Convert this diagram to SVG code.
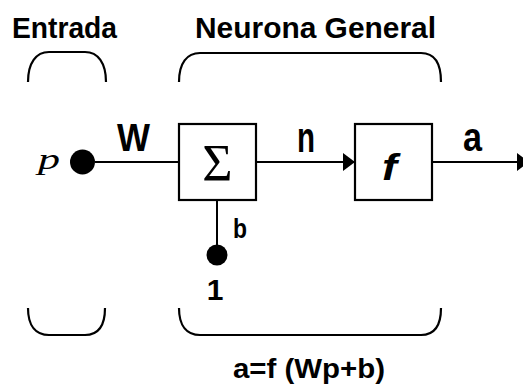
<svg xmlns="http://www.w3.org/2000/svg" width="523" height="385" viewBox="0 0 523 385">
  <style>
    .lbl { font-family: "Liberation Sans", Arial, sans-serif; font-weight: bold; fill: #000; }
    .wire { stroke: #000; stroke-width: 2; fill: none; }
    .brace { stroke: #000; stroke-width: 2.2; fill: none; }
    .box { stroke: #000; stroke-width: 2.2; fill: #fff; }
    .dot { fill: #000; }
  </style>
  <defs>
    <marker id="arrow" markerUnits="userSpaceOnUse" markerWidth="14" markerHeight="22" refX="13" refY="11" orient="auto">
      <path d="M1,2 L13,11 L1,20 Z" fill="#000"/>
    </marker>
  </defs>
  <rect width="523" height="385" fill="#fff"/>

  <!-- headings -->
  <text class="lbl" x="12" y="38" font-size="30" textLength="105" lengthAdjust="spacingAndGlyphs">Entrada</text>
  <text class="lbl" x="195" y="38" font-size="30" textLength="241" lengthAdjust="spacingAndGlyphs">Neurona General</text>

  <!-- input bracket -->
  <g id="input-bracket">
    <path class="brace" d="M28,82 C28,63 36,52 49,52 L85,52 C98,52 106,63 106,82"/>
    <path class="brace" d="M28,308 C28,326 36,335 49,335 L85,335 C98,335 105,326 105,308"/>
  </g>

  <!-- neuron bracket -->
  <g id="neuron-bracket">
    <path class="brace" d="M179,82 C179,63 187,53 200,53 L421,53 C434,53 441,63 441,82"/>
    <path class="brace" d="M179,308 C179,326 187,335 200,335 L421,335 C434,335 441,326 441,308"/>
  </g>

  <!-- connectors -->
  <g id="connectors">
    <line class="wire" x1="95" y1="162" x2="179" y2="162"/>
    <line class="wire" x1="256" y1="162" x2="355" y2="162" marker-end="url(#arrow)"/>
    <line class="wire" x1="432" y1="162" x2="529" y2="162" marker-end="url(#arrow)"/>
    <line class="wire" x1="217" y1="200" x2="217" y2="250" stroke-width="2.6"/>
  </g>

  <!-- input p -->
  <g id="input">
    <circle class="dot" cx="82.5" cy="162" r="12.5"/>
    <text x="38" y="169" font-family="Liberation Serif, 'Times New Roman', serif" font-style="italic" font-size="30" textLength="22" lengthAdjust="spacingAndGlyphs">p</text>
    <text class="lbl" x="117" y="151" font-size="38" textLength="33" lengthAdjust="spacingAndGlyphs">W</text>
  </g>

  <!-- summing junction -->
  <g id="sum">
    <rect class="box" x="179" y="124" width="77" height="76"/>
    <text x="217.5" y="181" text-anchor="middle" font-family="Liberation Serif, 'Times New Roman', serif" font-size="52">Σ</text>
  </g>

  <!-- bias -->
  <g id="bias">
    <circle class="dot" cx="217" cy="255" r="10.5"/>
    <text class="lbl" x="233" y="238" font-size="28" textLength="14" lengthAdjust="spacingAndGlyphs">b</text>
    <text class="lbl" x="215" y="300" font-size="30" text-anchor="middle">1</text>
  </g>

  <!-- net input label -->
  <text class="lbl" x="297" y="152" font-size="42" textLength="18" lengthAdjust="spacingAndGlyphs">n</text>

  <!-- transfer function -->
  <g id="transfer">
    <rect class="box" x="355" y="124" width="77" height="76"/>
    <text class="lbl" x="382" y="180" font-size="36" font-style="italic" textLength="15" lengthAdjust="spacingAndGlyphs">f</text>
  </g>

  <!-- output label -->
  <text class="lbl" x="463" y="151" font-size="40" textLength="19" lengthAdjust="spacingAndGlyphs">a</text>

  <!-- formula -->
  <text class="lbl" x="233" y="378" font-size="27" textLength="152" lengthAdjust="spacingAndGlyphs">a=f (Wp+b)</text>
</svg>
